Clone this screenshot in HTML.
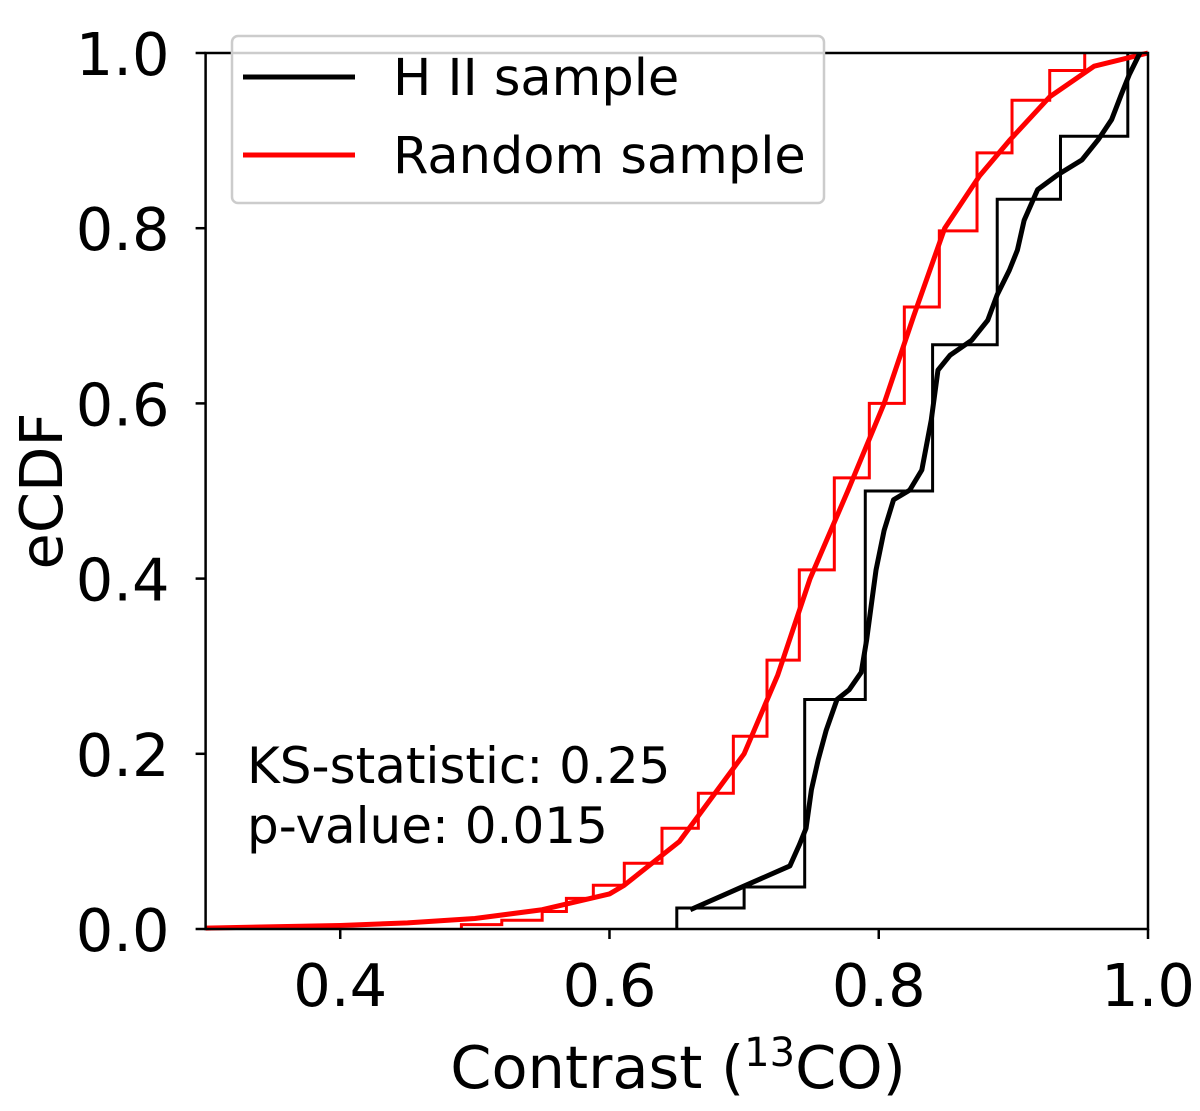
<!DOCTYPE html>
<html><head><meta charset="utf-8"><style>
body{margin:0;background:#fff}
svg text{font-family:"DejaVu Sans","Liberation Sans",sans-serif;fill:#000}
</style></head><body>
<svg id="chart" width="1200" height="1106" viewBox="0 0 1200 1106" xmlns="http://www.w3.org/2000/svg">
<g id="plot"></g>
<g id="axes"></g>
<text x="247" y="783" font-size="50">KS-statistic: 0.25</text>
<text x="247" y="843" font-size="50">p-value: 0.015</text>
<text x="678" y="1088" font-size="59" text-anchor="middle">Contrast (<tspan font-size="40" dy="-22">13</tspan><tspan dy="22">CO)</tspan></text>
<text transform="translate(62,491) rotate(-90)" font-size="59" text-anchor="middle">eCDF</text>
<g>
<rect x="232" y="36" width="592" height="167" rx="6" fill="#fff" fill-opacity="0.8" stroke="#ccc" stroke-width="2.5"/>
<line x1="243" y1="77" x2="355" y2="77" stroke="#000" stroke-width="5"/>
<text x="393" y="95" font-size="51">H II sample</text>
<line x1="243" y1="155" x2="355" y2="155" stroke="#f00" stroke-width="5"/>
<text x="393" y="173" font-size="51">Random sample</text>
</g>
</svg>
<script>
const xTicks=[0.4,0.6,0.8,1.0];
const xTickLabels=["0.4","0.6","0.8","1.0"];
const yTicks=[0,0.2,0.4,0.6,0.8,1.0];
const yTickLabels=["0.0","0.2","0.4","0.6","0.8","1.0"];
const hiiStepX=[0.65,0.70,0.745,0.79,0.84,0.888,0.935,0.985];
const hiiStepY=[0.024,0.048,0.262,0.5,0.667,0.833,0.905,1.0];
const hiiCurveX=[0.66,0.697,0.734,0.741,0.746,0.75,0.755,0.761,0.769,0.778,0.787,0.791,0.795,0.798,0.804,0.811,0.823,0.832,0.839,0.844,0.853,0.869,0.881,0.888,0.897,0.903,0.908,0.918,0.933,0.951,0.963,0.973,0.98,0.986,0.994];
const hiiCurveY=[0.022,0.047,0.072,0.096,0.115,0.159,0.193,0.227,0.262,0.273,0.293,0.33,0.376,0.41,0.455,0.49,0.501,0.524,0.581,0.638,0.655,0.672,0.695,0.724,0.752,0.775,0.809,0.844,0.861,0.878,0.901,0.924,0.952,0.975,1.0];
const randStepX=[0.49,0.52,0.55,0.568,0.588,0.611,0.639,0.666,0.692,0.717,0.741,0.767,0.793,0.819,0.845,0.873,0.899,0.927,0.953];
const randStepY=[0.005,0.01,0.02,0.035,0.05,0.075,0.115,0.155,0.22,0.307,0.41,0.515,0.6,0.71,0.797,0.886,0.946,0.98,1.0];
const randCurveX=[0.3,0.4,0.45,0.5,0.55,0.6,0.611,0.652,0.70,0.725,0.749,0.777,0.804,0.826,0.849,0.875,0.897,0.927,0.96,1.0];
const randCurveY=[0.001,0.004,0.007,0.012,0.022,0.04,0.05,0.1,0.2,0.29,0.4,0.5,0.6,0.7,0.8,0.86,0.9,0.95,0.985,1.0];

const X0=205.6,X1=1148,Y0=929,Y1=53;
const sx=v=>X0+(v-0.3)/0.7*(X1-X0);
const sy=v=>Y0-v*(Y0-Y1);
const NS="http://www.w3.org/2000/svg";
const plot=document.getElementById('plot'),axes=document.getElementById('axes');
function mk(tag,attrs,parent){const e=document.createElementNS(NS,tag);for(const k in attrs)e.setAttribute(k,attrs[k]);parent.appendChild(e);return e;}
function stepPath(xs,ys){let d=`M${sx(xs[0])},${sy(0)}`;for(let i=0;i<xs.length;i++){d+=` V${sy(ys[i])}`;if(i<xs.length-1)d+=` H${sx(xs[i+1])}`;}return d;}
function linePath(xs,ys){return xs.map((x,i)=>(i?'L':'M')+sx(x)+','+sy(ys[i])).join(' ');}
let p;
p=mk('path',{d:stepPath(randStepX,randStepY),fill:'none',stroke:'#f00','stroke-width':3},plot);


p=mk('path',{d:stepPath(hiiStepX,hiiStepY),fill:'none',stroke:'#000','stroke-width':3},plot);


p=mk('path',{d:linePath(randCurveX,randCurveY),fill:'none',stroke:'#f00','stroke-width':5,'stroke-linejoin':'round'},plot);


p=mk('path',{d:linePath(hiiCurveX,hiiCurveY),fill:'none',stroke:'#000','stroke-width':5,'stroke-linejoin':'round'},plot);


p=mk('rect',{x:X0,y:Y1,width:X1-X0,height:Y0-Y1,fill:'none',stroke:'#000','stroke-width':2.5},axes);


xTicks.forEach((v,i)=>{
 const t=mk('line',{x1:sx(v),x2:sx(v),y1:Y0,y2:Y0+10,stroke:'#000','stroke-width':2.5},axes);
 
 
 const l=mk('text',{x:sx(v),y:Y0+77,'font-size':59,'text-anchor':'middle'},axes);l.textContent=xTickLabels[i];
 
 
});
yTicks.forEach((v,i)=>{
 const t=mk('line',{x1:X0-10,x2:X0,y1:sy(v),y2:sy(v),stroke:'#000','stroke-width':2.5},axes);
 
 
 const l=mk('text',{x:X0-36,y:sy(v)+22,'font-size':59,'text-anchor':'end'},axes);l.textContent=yTickLabels[i];
 
 
});
</script>
</body></html>
